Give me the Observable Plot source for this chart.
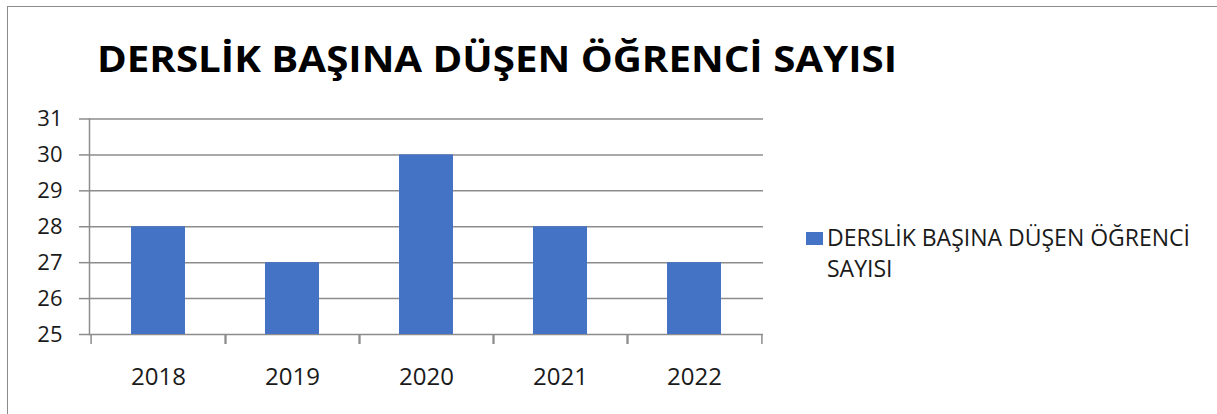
<!DOCTYPE html>
<html>
<head>
<meta charset="utf-8">
<script src="https://cdn.jsdelivr.net/npm/d3@7"></script>
<script src="https://cdn.jsdelivr.net/npm/@observablehq/plot@0.6"></script>
<style>
  html, body { margin: 0; padding: 0; background: #fff; }
  #wrap { position: relative; width: 1217px; height: 414px; overflow: hidden; background: #fff; }
  #border { position: absolute; left: 7px; top: 6px; width: 1300px; height: 500px; border: 1.5px solid #8c8c8c; box-sizing: border-box; }
  #title { position: absolute; left: 97px; top: 35px; font-family: "Open Sans", sans-serif; font-weight: 700; font-size: 35px; line-height: 48px; color: #000; white-space: nowrap; transform-origin: 0 0; transform: scaleX(1.15); }
  #chart { position: absolute; left: 0; top: 0; }
  #legend { position: absolute; left: 806px; top: 222px; font-family: "Open Sans", sans-serif; font-size: 23px; line-height: 31px; color: #1a1a1a; white-space: nowrap; }
  #legend .sw { display: inline-block; width: 17px; height: 13px; background: #4472C4; margin-right: 4px; vertical-align: 1px; }
  #legend .l2 { padding-left: 21px; }
</style>
</head>
<body>
<div id="wrap">
  <div id="border"></div>
  <div id="title">DERSLİK BAŞINA DÜŞEN ÖĞRENCİ SAYISI</div>
  <div id="chart"></div>
  <div id="legend"><div><span class="sw"></span>DERSLİK BAŞINA DÜŞEN ÖĞRENCİ</div><div class="l2">SAYISI</div></div>
</div>
<script>
const years = ["2018", "2019", "2020", "2021", "2022"];
const values = [28, 27, 30, 28, 27];
const yTicks = [25, 26, 27, 28, 29, 30, 31];
const seriesName = "DERSLİK BAŞINA DÜŞEN ÖĞRENCİ SAYISI";

const data = years.map((y, i) => ({year: y, value: values[i]}));

const W = 1217, H = 414;
const mL = 89, mR = W - 763, mT = 118.5, mB = H - 334;
const step = (763 - 89) / years.length;

const gridColor = "#8c8c8c";
const font = "'Open Sans', sans-serif";

const chart = Plot.plot({
  width: W,
  height: H,
  marginLeft: mL,
  marginRight: mR,
  marginTop: mT,
  marginBottom: mB,
  style: {fontFamily: font, background: "transparent", overflow: "visible"},
  x: {domain: years, paddingInner: 0.6, paddingOuter: 0.3, align: 0.5, label: null},
  y: {domain: [25, 31], ticks: yTicks, label: null},
  marks: [
    Plot.gridY(yTicks, {stroke: gridColor, strokeOpacity: 1, strokeWidth: 1.5}),
    Plot.frame({anchor: "left", stroke: gridColor, strokeWidth: 1.5}),
    Plot.axisY(yTicks, {tickSize: 10, tickPadding: 17, stroke: gridColor, strokeWidth: 1.5, fill: "#1a1a1a", fontSize: 22, label: null, tickFormat: d => String(d)}),
    Plot.axisX({tickSize: 10, dx: -step / 2, stroke: gridColor, strokeWidth: 1.5, label: null, tickFormat: () => ""}),
    Plot.axisX({tickSize: 10, dx: step / 2, stroke: gridColor, strokeWidth: 1.5, label: null, tickFormat: () => ""}),
    Plot.axisX({tickSize: 0, tickPadding: 33, fontSize: 24, fill: "#1a1a1a", label: null}),
    Plot.barY(data, {x: "year", y1: 25, y2: "value", fill: "#4472C4", title: d => `${seriesName}\n${d.year}: ${d.value}`})
  ]
});
document.getElementById("chart").appendChild(chart);
</script>
</body>
</html>
